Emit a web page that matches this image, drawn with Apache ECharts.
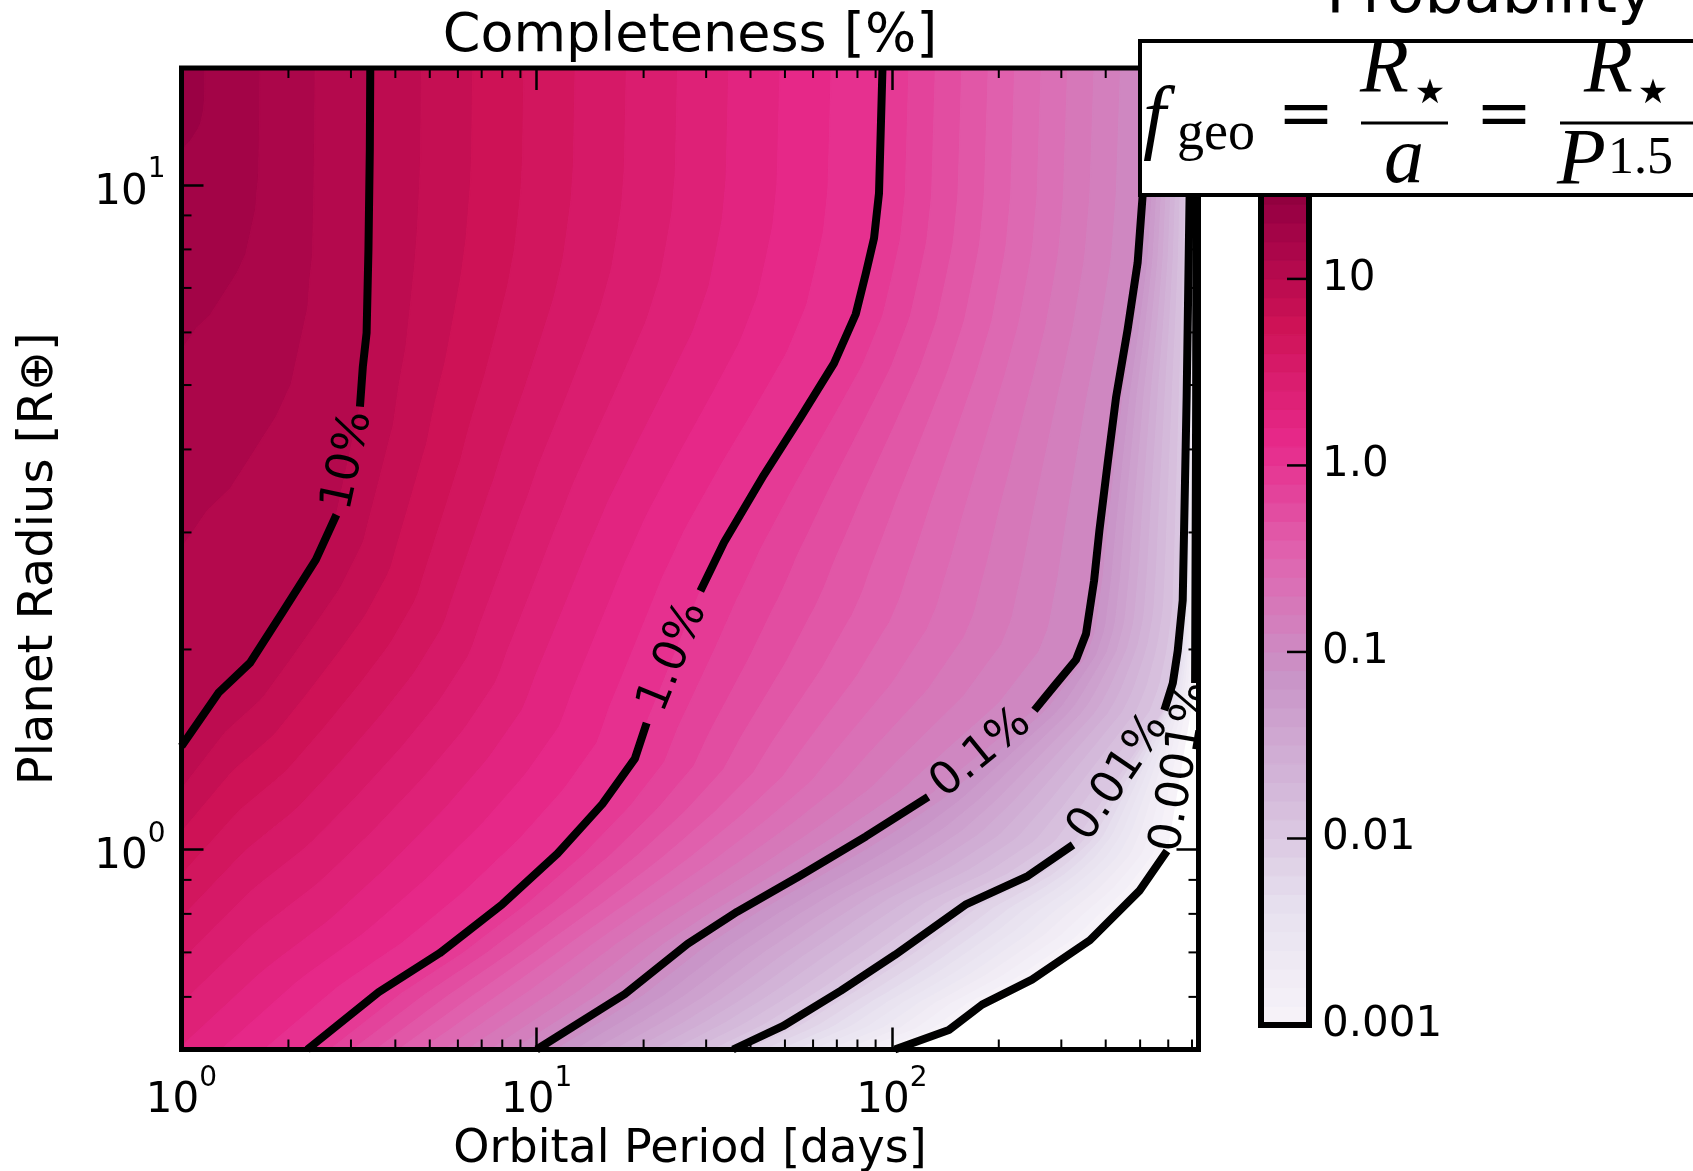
<!DOCTYPE html>
<html>
<head>
<meta charset="utf-8">
<title>Completeness [%]</title>
<script src="https://cdn.jsdelivr.net/npm/echarts@6.0.0/dist/echarts.min.js"></script>
<style>
html, body { margin: 0; padding: 0; background: #ffffff; }
#chart { width: 1693px; height: 1171px; }
</style>
</head>
<body>
<div id="chart"></div>
<script>
// ------------------------------------------------------------------
// Data
// ------------------------------------------------------------------
const periodRange = [1, 730];          // orbital period axis [days]
const radiusRange = [0.5, 15];         // planet radius axis [R_earth]
const periodMinorTicks = [2, 3, 4, 5, 6, 7, 8, 9, 20, 30, 40, 50, 60, 70, 80, 90, 200, 300, 400, 500, 600, 700];
const radiusMinorTicks = [0.6, 0.7, 0.8, 0.9, 2, 3, 4, 5, 6, 7, 8, 9];

const contourLevels = [10, 1, 0.1, 0.01, 0.001];            // completeness [%]
const contourLabels = ['10%', '1.0%', '0.1%', '0.01%', '0.001%'];
const cornerCompleteness = 22;   // completeness [%] at P = 1 d, R = 15 R_earth

// Contour lines: [orbital period (days), planet radius (R_earth)]; null = gap of the inline label
const contour10 = [
  [3.40, 15], [3.39, 11.3], [3.36, 8.0], [3.32, 5.99], [3.24, 5.33], [3.18, 4.64],
  null,
  [2.73, 3.19], [2.39, 2.73], [1.92, 2.27], [1.56, 1.91], [1.27, 1.72], [1.0, 1.43]
];
const contour1 = [
  [94.1, 15], [92.0, 9.72], [89.1, 8.32], [84.4, 7.35], [79.1, 6.39], [68.7, 5.39], [55.5, 4.48],
  [43.6, 3.66], [33.7, 2.90], [28.9, 2.45],
  null,
  [20.4, 1.55], [18.9, 1.37], [15.3, 1.17], [11.45, 0.986], [8.0, 0.827], [5.33, 0.698], [3.59, 0.610], [2.26, 0.5]
];
const contour01 = [
  [523, 15], [508, 9.62], [492, 7.64], [461, 6.06], [428, 4.80], [405, 3.81], [384, 3.02], [371, 2.54],
  [352, 2.11], [330, 1.93], [286, 1.76], [252, 1.62],
  null,
  [126.5, 1.20], [84.5, 1.046], [55.0, 0.912], [36.7, 0.806], [26.6, 0.721], [17.7, 0.606], [10.0, 0.5]
];
const contour001 = [
  [691, 15], [689, 9.62], [676, 4.80], [659, 2.37], [638, 1.99], [618, 1.78], [585, 1.62],
  null,
  [323.6, 1.016], [241.3, 0.912], [161.1, 0.826], [102.0, 0.694], [71.9, 0.613], [49.3, 0.542], [35.7, 0.5]
];
const contour0001 = [
  [721, 15], [719, 4.75], [714, 1.78],
  null,
  [595, 0.995], [499, 0.868], [361, 0.730], [248, 0.637], [179.5, 0.584], [144.7, 0.535], [101.9, 0.5]
];

// Colour bar of the "Probability" panel
const colorbarRange = [0.001, 39.81];
const colorbarTicks = [0.001, 0.01, 0.1, 1, 10];
const colorbarTickLabels = ['0.001', '0.01', '0.1', '1.0', '10'];

// ------------------------------------------------------------------
// Styling helpers
// ------------------------------------------------------------------
const FONT = "'DejaVu Sans', 'Noto Sans', sans-serif";
const SERIF = "'Liberation Serif', 'DejaVu Serif', serif";
const LOG_MIN = -3, LOG_MAX = 2;     // colour normalisation in log10(%)
const PURD = ['#f7f4f9', '#e7e1ef', '#d4b9da', '#c994c7', '#df65b0', '#e7298a', '#ce1256', '#980043', '#67001f'];
const PURD_RGB = PURD.map(h => [parseInt(h.slice(1, 3), 16), parseInt(h.slice(3, 5), 16), parseInt(h.slice(5, 7), 16)]);
function cmap(t) {
  t = Math.max(0, Math.min(1, t));
  const x = t * 8, i = Math.min(7, Math.floor(x)), f = x - i;
  const a = PURD_RGB[i], b = PURD_RGB[i + 1];
  return 'rgb(' + [0, 1, 2].map(k => Math.round(a[k] + (b[k] - a[k]) * f)).join(',') + ')';
}
// colour of the 0.1-dex filled contour band that contains log10 value lg
function levelColor(lg) {
  const lo = Math.floor(lg * 10 + 1e-6) / 10;
  return cmap((lo + 0.05 - LOG_MIN) / (LOG_MAX - LOG_MIN));
}

const contours = [contour10, contour1, contour01, contour001, contour0001];
// Filled regions between consecutive contour lines (hi = higher completeness side)
const bands = [
  { hi: null, lo: 0, via: [] },
  { hi: 0, lo: 1, via: [[periodRange[0], radiusRange[0]]] },
  { hi: 1, lo: 2, via: [] },
  { hi: 2, lo: 3, via: [] },
  { hi: 3, lo: 4, via: [] }
];

function cumFrac(pts) {
  const c = [0];
  for (let i = 1; i < pts.length; i++) c.push(c[i - 1] + Math.hypot(pts[i][0] - pts[i - 1][0], pts[i][1] - pts[i - 1][1]));
  const tot = c[c.length - 1] || 1;
  return c.map(v => v / tot);
}
function pointAt(pts, fr, t) {
  if (pts.length === 1) return pts[0].slice();
  for (let i = 1; i < pts.length; i++) {
    if (t <= fr[i] + 1e-12 || i === pts.length - 1) {
      const d = (fr[i] - fr[i - 1]) || 1;
      const f = Math.max(0, Math.min(1, (t - fr[i - 1]) / d));
      return [pts[i - 1][0] + (pts[i][0] - pts[i - 1][0]) * f, pts[i - 1][1] + (pts[i][1] - pts[i - 1][1]) * f];
    }
  }
  return pts[pts.length - 1].slice();
}
function resample(pts, n) {
  const fr = cumFrac(pts);
  const out = [];
  for (let k = 0; k < n; k++) out.push(pointAt(pts, fr, k / (n - 1)));
  return out;
}

function renderBand(params, api) {
  const b = bands[params.dataIndex];
  const px = p => api.coord(p);
  const N = 160;
  const hiPts = b.hi === null ? [px([periodRange[0], radiusRange[1]])] : contours[b.hi].filter(Boolean).map(px);
  const loPts = contours[b.lo].filter(Boolean).map(px);
  const H = resample(hiPts, N), L = resample(loPts, N);
  const walk = [H[N - 1]].concat(b.via.map(px), [L[N - 1]]);
  const wf = cumFrac(walk);
  const hiVal = Math.log10(b.hi === null ? cornerCompleteness : contourLevels[b.hi]);
  const loVal = Math.log10(contourLevels[b.lo]);
  const bounds = [hiVal];
  for (let k = Math.floor(hiVal * 10 - 1e-6); k / 10 > loVal + 1e-6; k--) bounds.push(k / 10);
  bounds.push(loVal);
  const lineAt = t => {
    const e = pointAt(walk, wf, t);
    const ox = e[0] - (H[N - 1][0] + (L[N - 1][0] - H[N - 1][0]) * t);
    const oy = e[1] - (H[N - 1][1] + (L[N - 1][1] - H[N - 1][1]) * t);
    const out = [];
    for (let i = 0; i < N; i++) {
      const s = i / (N - 1), w = s * s * s;
      out.push([H[i][0] + (L[i][0] - H[i][0]) * t + ox * w, H[i][1] + (L[i][1] - H[i][1]) * t + oy * w]);
    }
    return out;
  };
  const children = [];
  for (let j = 0; j < bounds.length - 1; j++) {
    const a = bounds[j], c = bounds[j + 1];
    const ta = (hiVal - a) / (hiVal - loVal), tb = (hiVal - c) / (hiVal - loVal);
    const la = lineAt(ta), lb = lineAt(tb);
    const mid = [];
    for (let v = 1; v < walk.length - 1; v++) if (wf[v] > ta && wf[v] < tb) mid.push(walk[v]);
    const pts = la.concat(mid, lb.reverse());
    const col = levelColor((a + c) / 2);
    children.push({ type: 'polygon', shape: { points: pts }, style: { fill: col, stroke: col, lineWidth: 1.2 } });
  }
  return { type: 'group', children: children };
}

function renderLabel(params, api) {
  const c = contours[params.dataIndex];
  const g = c.indexOf(null);
  const p1 = api.coord(c[g - 1]), p2 = api.coord(c[g + 1]);
  const s = p1[0] <= p2[0] ? p1 : p2, e = p1[0] <= p2[0] ? p2 : p1;
  const ang = Math.atan2(-(e[1] - s[1]), e[0] - s[0]);
  return {
    type: 'text', x: (s[0] + e[0]) / 2, y: (s[1] + e[1]) / 2, rotation: ang,
    style: { text: contourLabels[params.dataIndex], fontSize: 45, fontFamily: FONT, fill: '#000', align: 'center', verticalAlign: 'middle' }
  };
}

const MINOR_LEN = 10;
function renderPeriodMinor(params, api) {
  const cs = params.coordSys;
  const x = api.coord([api.value(0), radiusRange[0]])[0];
  const st = { stroke: '#000', lineWidth: 2 };
  return { type: 'group', children: [
    { type: 'line', shape: { x1: x, y1: cs.y + cs.height, x2: x, y2: cs.y + cs.height - MINOR_LEN }, style: st },
    { type: 'line', shape: { x1: x, y1: cs.y, x2: x, y2: cs.y + MINOR_LEN }, style: st }
  ] };
}
function renderRadiusMinor(params, api) {
  const cs = params.coordSys;
  const y = api.coord([periodRange[0], api.value(1)])[1];
  const st = { stroke: '#000', lineWidth: 2 };
  return { type: 'group', children: [
    { type: 'line', shape: { x1: cs.x, y1: y, x2: cs.x + MINOR_LEN, y2: y }, style: st },
    { type: 'line', shape: { x1: cs.x + cs.width, y1: y, x2: cs.x + cs.width - MINOR_LEN, y2: y }, style: st }
  ] };
}
function renderColorbar(params, api) {
  const cs = params.coordSys;
  const children = [];
  const top = Math.log10(colorbarRange[1]);
  for (let k = Math.round(Math.log10(colorbarRange[0]) * 10); k / 10 < top - 1e-9; k++) {
    const L = k / 10;
    const y1 = api.coord([0.5, Math.pow(10, L)])[1];
    const y2 = api.coord([0.5, Math.pow(10, Math.min(top, L + 0.1))])[1];
    const col = levelColor(L + 0.05);
    children.push({ type: 'rect', shape: { x: cs.x, y: y2, width: cs.width, height: y1 - y2 },
      style: { fill: col, stroke: col, lineWidth: 1 } });
  }
  // colour-bar ticks: on the right edge, pointing into the bar
  colorbarTicks.forEach(v => {
    const y = api.coord([0.5, v])[1];
    children.push({ type: 'line', shape: { x1: cs.x + cs.width, y1: y, x2: cs.x + cs.width - 22, y2: y },
      style: { stroke: '#000', lineWidth: 2.5 } });
  });
  return { type: 'group', children: children };
}

function powLabel(v) {
  const e = Math.log10(v);
  if (Math.abs(e - Math.round(e)) > 1e-6) return '';
  return '{b|10}{s|' + Math.round(e) + '}';
}
const richTick = {
  b: { fontSize: 42, lineHeight: 58, verticalAlign: 'bottom', fontFamily: FONT, color: '#000' },
  s: { fontSize: 28, lineHeight: 28, verticalAlign: 'top', fontFamily: FONT, color: '#000' }
};
function cbLabel(v) {
  const i = colorbarTicks.findIndex(t => Math.abs(v / t - 1) < 1e-6);
  return i >= 0 ? colorbarTickLabels[i] : '';
}
const majorTick = { show: true, inside: true, length: 22, lineStyle: { color: '#000', width: 2.5 } };

// ------------------------------------------------------------------
// Series
// ------------------------------------------------------------------
const series = [];
series.push({
  type: 'custom', name: 'completeness', xAxisIndex: 0, yAxisIndex: 0, clip: true, silent: true, z: 1,
  data: bands.map((b, i) => [periodRange[0], radiusRange[0], i]), renderItem: renderBand
});
contours.forEach((c, ci) => {
  let seg = [];
  const segs = [];
  c.forEach(p => { if (p === null) { segs.push(seg); seg = []; } else seg.push(p); });
  segs.push(seg);
  segs.forEach(s => series.push({
    type: 'line', name: contourLabels[ci], xAxisIndex: 0, yAxisIndex: 0, data: s, showSymbol: false, symbol: 'none',
    smooth: false, silent: true, z: 3, clip: true,
    lineStyle: { color: '#000', width: 8, cap: 'butt', join: 'round' }
  }));
});
series.push({
  type: 'custom', name: 'labels', xAxisIndex: 0, yAxisIndex: 0, clip: true, silent: true, z: 4,
  data: contours.map((c, i) => [periodRange[0], radiusRange[0], i]), renderItem: renderLabel
});
series.push({
  type: 'custom', name: 'pminor', xAxisIndex: 0, yAxisIndex: 0, clip: false, silent: true, z: 12,
  data: periodMinorTicks.map(v => [v, radiusRange[0]]), renderItem: renderPeriodMinor
});
series.push({
  type: 'custom', name: 'rminor', xAxisIndex: 0, yAxisIndex: 0, clip: false, silent: true, z: 12,
  data: radiusMinorTicks.map(v => [periodRange[0], v]), renderItem: renderRadiusMinor
});
series.push({
  type: 'custom', name: 'colorbar', xAxisIndex: 2, yAxisIndex: 2, clip: false, silent: true, z: 1,
  data: [[0.5, 1]], renderItem: renderColorbar
});

const option = {
  animation: false,
  backgroundColor: '#ffffff',
  title: {
    text: 'Completeness [%]', left: 690, top: 10, textAlign: 'center', padding: 0,
    textStyle: { fontSize: 54, fontWeight: 'normal', fontFamily: FONT, color: '#000' }
  },
  grid: [
    { left: 181.5, top: 68, width: 1017, height: 981.5, show: true, borderColor: '#000', borderWidth: 5,
      backgroundColor: 'rgba(0,0,0,0)', z: 10, containLabel: false, outerBoundsMode: 'none' },
    { left: 1261, top: 167, width: 48, height: 858, show: true, borderColor: '#000', borderWidth: 6,
      backgroundColor: 'rgba(0,0,0,0)', z: 10, containLabel: false, outerBoundsMode: 'none' }
  ],
  xAxis: [
    { gridIndex: 0, type: 'log', logBase: 10, min: periodRange[0], max: periodRange[1], position: 'bottom', z: 11,
      axisLine: { show: false }, axisTick: majorTick, splitLine: { show: false }, minorTick: { show: false },
      axisLabel: { margin: 15, formatter: powLabel, rich: richTick },
      name: 'Orbital Period [days]', nameLocation: 'middle', nameGap: 75,
      nameTextStyle: { fontSize: 46, fontFamily: FONT, color: '#000' } },
    { gridIndex: 0, type: 'log', logBase: 10, min: periodRange[0], max: periodRange[1], position: 'top', z: 11,
      axisLine: { show: false }, axisTick: majorTick, splitLine: { show: false }, axisLabel: { show: false } },
    { gridIndex: 1, type: 'value', min: 0, max: 1, show: false }
  ],
  yAxis: [
    { gridIndex: 0, type: 'log', logBase: 10, min: radiusRange[0], max: radiusRange[1], position: 'left', z: 11,
      axisLine: { show: false }, axisTick: majorTick, splitLine: { show: false }, minorTick: { show: false },
      axisLabel: { margin: 16, formatter: powLabel, rich: richTick },
      name: 'Planet Radius [R\u2295]', nameLocation: 'middle', nameGap: 118, nameRotate: 90,
      nameTextStyle: { fontSize: 48, fontFamily: FONT, color: '#000' } },
    { gridIndex: 0, type: 'log', logBase: 10, min: radiusRange[0], max: radiusRange[1], position: 'right', z: 11,
      axisLine: { show: false }, axisTick: majorTick, splitLine: { show: false }, axisLabel: { show: false } },
    { gridIndex: 1, type: 'log', logBase: 10, min: colorbarRange[0], max: colorbarRange[1], position: 'right', z: 11,
      axisLine: { show: false }, splitLine: { show: false }, axisTick: { show: false },
      axisLabel: { margin: 13, fontSize: 42, fontFamily: FONT, color: '#000', formatter: cbLabel } }
  ],
  graphic: { elements: [
    { type: 'text', x: 1490, y: -4, z: 100,
      style: { text: 'Probability', fontSize: 62, fontFamily: FONT, fill: '#000', align: 'center', verticalAlign: 'middle' } },
    { type: 'rect', z: 100, shape: { x: 1140, y: 41, width: 600, height: 154 },
      style: { fill: '#ffffff', stroke: '#000', lineWidth: 4 } },
    { type: 'text', z: 101, x: 1143, y: 121,
      style: { text: 'f', font: 'italic 82px ' + SERIF, fill: '#000', align: 'left', verticalAlign: 'middle' } },
    { type: 'text', z: 101, x: 1177, y: 135,
      style: { text: 'geo', font: '54px ' + SERIF, fill: '#000', align: 'left', verticalAlign: 'middle' } },
    { type: 'text', z: 101, x: 1306, y: 118,
      style: { text: '=', font: '68px ' + "'DejaVu Serif', serif", fill: '#000', align: 'center', verticalAlign: 'middle' } },
    { type: 'line', z: 101, shape: { x1: 1361, y1: 123, x2: 1448, y2: 123 }, style: { stroke: '#000', lineWidth: 3 } },
    { type: 'text', z: 101, x: 1360, y: 71,
      style: { text: 'R', font: 'italic 80px ' + SERIF, fill: '#000', align: 'left', verticalAlign: 'middle' } },
    { type: 'text', z: 101, x: 1430, y: 94,
      style: { text: '\u2605', font: '34px ' + FONT, fill: '#000', align: 'center', verticalAlign: 'middle' } },
    { type: 'text', z: 101, x: 1404, y: 161,
      style: { text: 'a', font: 'italic 80px ' + SERIF, fill: '#000', align: 'center', verticalAlign: 'middle' } },
    { type: 'text', z: 101, x: 1504, y: 118,
      style: { text: '=', font: '68px ' + "'DejaVu Serif', serif", fill: '#000', align: 'center', verticalAlign: 'middle' } },
    { type: 'line', z: 101, shape: { x1: 1560, y1: 123, x2: 1700, y2: 123 }, style: { stroke: '#000', lineWidth: 3 } },
    { type: 'text', z: 101, x: 1584, y: 71,
      style: { text: 'R', font: 'italic 80px ' + SERIF, fill: '#000', align: 'left', verticalAlign: 'middle' } },
    { type: 'text', z: 101, x: 1653, y: 94,
      style: { text: '\u2605', font: '34px ' + FONT, fill: '#000', align: 'center', verticalAlign: 'middle' } },
    { type: 'text', z: 101, x: 1557, y: 163,
      style: { text: 'P', font: 'italic 80px ' + SERIF, fill: '#000', align: 'left', verticalAlign: 'middle' } },
    { type: 'text', z: 101, x: 1608, y: 159,
      style: { text: '1.5', font: '52px ' + SERIF, fill: '#000', align: 'left', verticalAlign: 'middle' } }
  ] },
  series: series
};

const chart = echarts.init(document.getElementById('chart'), null, { renderer: 'canvas', width: 1693, height: 1171 });
chart.setOption(option);
</script>
</body>
</html>
